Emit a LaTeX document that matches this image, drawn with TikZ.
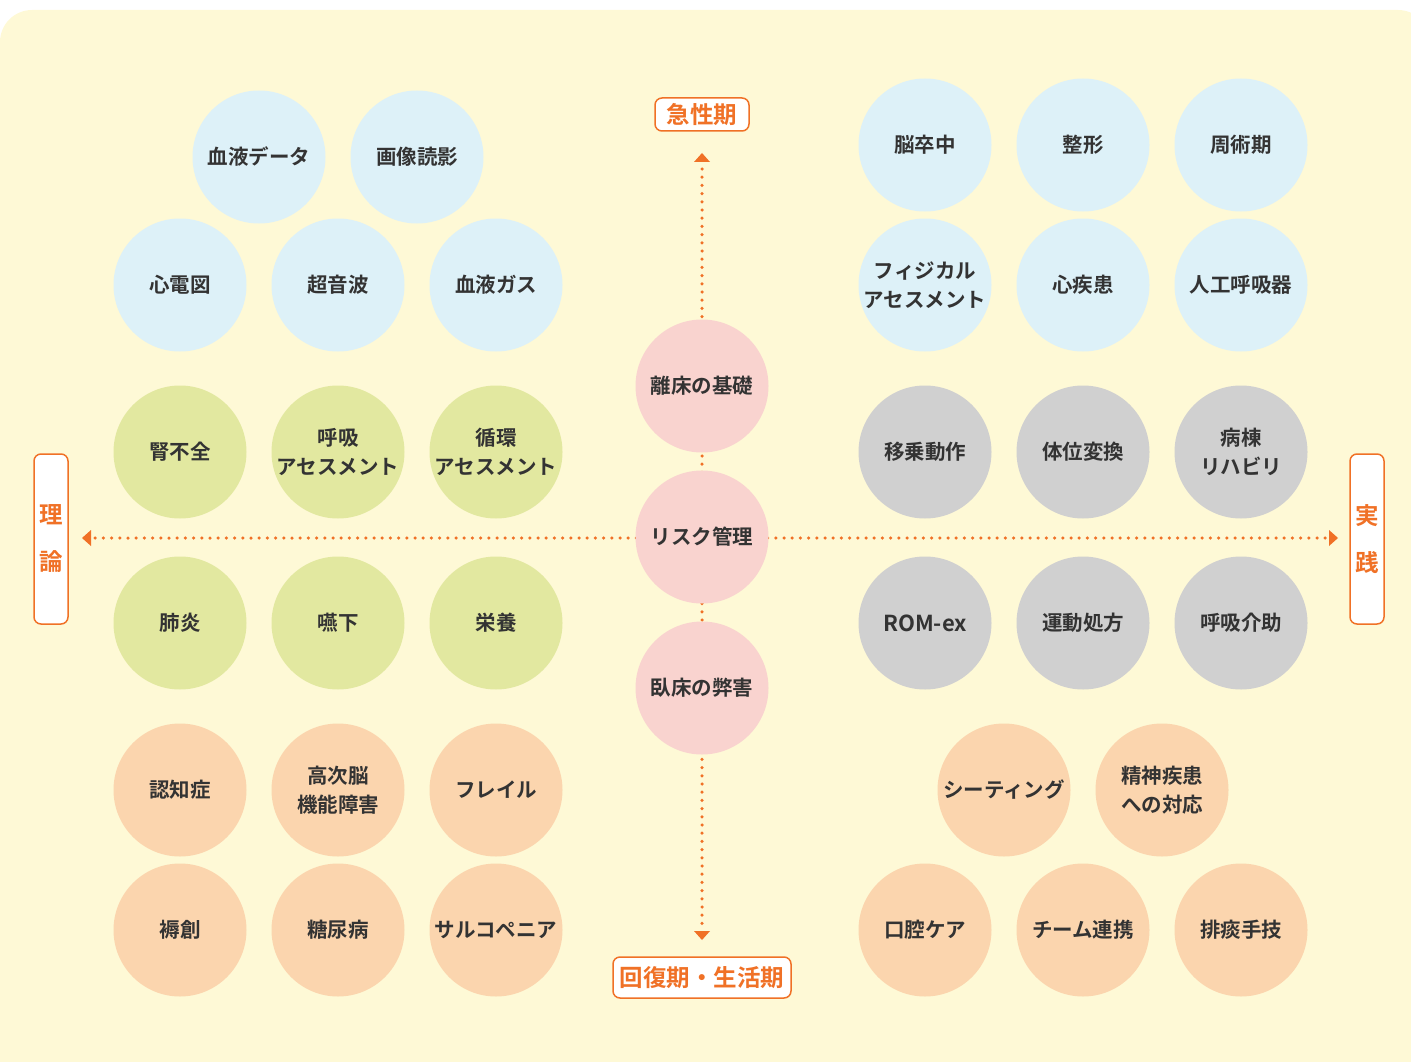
\documentclass[tikz,border=0pt]{standalone}
\usepackage{fontspec}
\setmainfont{Noto Sans CJK JP}[BoldFont={Noto Sans CJK JP Bold}]
\usetikzlibrary{arrows.meta}
\definecolor{bgc}{HTML}{FEF9D6}
\definecolor{blu}{HTML}{DDF1F8}
\definecolor{grn}{HTML}{E2E8A0}
\definecolor{gry}{HTML}{D0D0D0}
\definecolor{pch}{HTML}{FBD5AE}
\definecolor{pnk}{HTML}{F9D3CF}
\definecolor{org}{HTML}{F07126}
\definecolor{txt}{HTML}{333333}
\tikzset{
  circ/.style={circle, minimum size=133pt, inner sep=0pt, align=center, text=txt,
    font=\fontsize{20.5}{29}\selectfont\bfseries},
  bluec/.style={circ, fill=blu},
  grnc/.style={circ, fill=grn},
  gryc/.style={circ, fill=gry},
  pchc/.style={circ, fill=pch},
  pnkc/.style={circ, fill=pnk},
  lbl/.style={draw=org, line width=1.5pt, fill=white, rounded corners=7pt, text=org,
    font=\fontsize{23.5}{30}\selectfont\bfseries, inner sep=0pt, align=center},
  dotline/.style={org, line width=3.5pt, line cap=round, dash pattern=on 0pt off 8.2pt}
}
\begin{document}
\begin{tikzpicture}[x=1pt,y=-1pt]
\useasboundingbox (0,0) rectangle (1411,1062);
\begin{scope}
\clip (0,0) rectangle (1411,1062);
\fill[bgc, rounded corners=32pt] (0,10) rectangle (1430,1100);
\end{scope}
% axes
\coordinate (top) at (702,153);
\coordinate (bot) at (702,940);
\coordinate (lft) at (82,538);
\coordinate (rgt) at (1338,538);
\coordinate (ctr) at (702,538);
\draw[dotline] (ctr) -- (702,164);
\draw[dotline] (ctr) -- (702,928);
\draw[dotline] (ctr) -- (94,538);
\draw[dotline] (ctr) -- (1326,538);
\fill[org] (top) -- ++(-8,9) -- ++(16,0) -- cycle;
\fill[org] (bot) -- ++(-8,-9) -- ++(16,0) -- cycle;
\fill[org] (lft) -- ++(9,-8) -- ++(0,16) -- cycle;
\fill[org] (rgt) -- ++(-9,-8) -- ++(0,16) -- cycle;
% labels
\node[lbl, minimum width=94pt, minimum height=33pt] (acute) at (702,114.5) {急性期};
\node[lbl, minimum width=178pt, minimum height=41pt] (recov) at (702,977.5) {回復期・生活期};
\node[lbl, minimum width=34pt, minimum height=170pt] (theory) at (51,539) {理\\[17pt]論};
\node[lbl, minimum width=34pt, minimum height=170pt] (pract) at (1367,539) {実\\[17pt]践};
% center
\node[pnkc] (c1) at (702,386) {離床の基礎};
\node[pnkc] (c2) at (702,537) {リスク管理};
\node[pnkc] (c3) at (702,688) {臥床の弊害};
% left blue
\node[bluec] (l1) at (259,157) {血液データ};
\node[bluec] (l2) at (417,157) {画像読影};
\node[bluec] (l3) at (180,285) {心電図};
\node[bluec] (l4) at (338,285) {超音波};
\node[bluec] (l5) at (496,285) {血液ガス};
% left green
\node[grnc] (g1) at (180,452) {腎不全};
\node[grnc] (g2) at (338,452) {呼吸\\アセスメント};
\node[grnc] (g3) at (496,452) {循環\\アセスメント};
\node[grnc] (g4) at (180,623) {肺炎};
\node[grnc] (g5) at (338,623) {嚥下};
\node[grnc] (g6) at (496,623) {栄養};
% left peach
\node[pchc] (p1) at (180,790) {認知症};
\node[pchc] (p2) at (338,790) {高次脳\\機能障害};
\node[pchc] (p3) at (496,790) {フレイル};
\node[pchc] (p4) at (180,930) {褥創};
\node[pchc] (p5) at (338,930) {糖尿病};
\node[pchc] (p6) at (496,930) {サルコペニア};
% right blue
\node[bluec] (r1) at (925,145) {脳卒中};
\node[bluec] (r2) at (1083,145) {整形};
\node[bluec] (r3) at (1241,145) {周術期};
\node[bluec] (r4) at (925,285) {フィジカル\\アセスメント};
\node[bluec] (r5) at (1083,285) {心疾患};
\node[bluec] (r6) at (1241,285) {人工呼吸器};
% right grey
\node[gryc] (s1) at (925,452) {移乗動作};
\node[gryc] (s2) at (1083,452) {体位変換};
\node[gryc] (s3) at (1241,452) {病棟\\リハビリ};
\node[gryc, font=\fontsize{22}{26}\selectfont\bfseries] (s4) at (925,623) {ROM-ex};
\node[gryc] (s5) at (1083,623) {運動処方};
\node[gryc] (s6) at (1241,623) {呼吸介助};
% right peach
\node[pchc] (q1) at (1004,790) {シーティング};
\node[pchc] (q2) at (1162,790) {精神疾患\\への対応};
\node[pchc] (q3) at (925,930) {口腔ケア};
\node[pchc] (q4) at (1083,930) {チーム連携};
\node[pchc] (q5) at (1241,930) {排痰手技};
\end{tikzpicture}
\end{document}
